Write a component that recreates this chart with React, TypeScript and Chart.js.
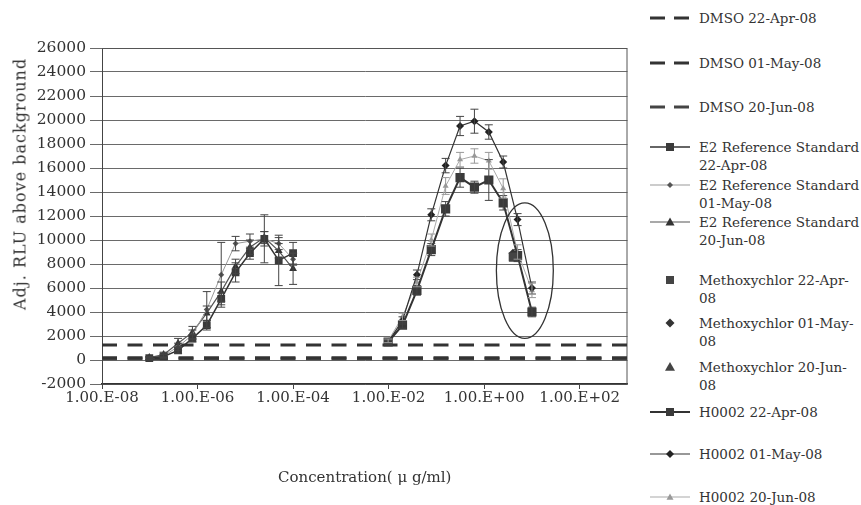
import React, { useEffect, useRef } from 'react';
import { Chart, registerables } from 'chart.js';

Chart.register(...registerables);

const FONT = '"DejaVu Serif", "Liberation Serif", serif';

// ---------- data ----------
const concE2 = [9.77e-8, 1.95e-7, 3.91e-7, 7.81e-7, 1.56e-6, 3.13e-6, 6.25e-6, 1.25e-5, 2.5e-5, 5e-5, 1e-4];
const concH0002 = [0.00977, 0.0195, 0.0391, 0.0781, 0.156, 0.3125, 0.625, 1.25, 2.5, 5, 10];
const concMethoxychlor = [4];
const concDMSO = [1e-8, 1e3];

const dmso22Apr = [1250, 1250];
const dmso01May = [180, 180];
const dmso20Jun = [100, 100];

const e2Apr = [150, 300, 800, 1800, 2900, 5100, 7300, 8900, 10100, 8300, 8900];
const e2May = [100, 350, 1100, 2100, 4200, 7100, 9700, 9900, 10100, 9700, 8400];
const e2Jun = [200, 450, 1400, 2300, 3900, 5700, 7800, 9400, 10200, 9100, 7600];
const e2AprErr = [100, 150, 250, 300, 400, 500, 800, 500, 2000, 2100, 900];
const e2MayErr = [100, 150, 300, 400, 1500, 2700, 600, 600, 600, 500, 500];
const e2JunErr = [100, 200, 400, 500, 600, 800, 600, 600, 500, 600, 1300];

const methApr = [8600];
const methMay = [8900];
const methJun = [8400];

const h2Apr = [1500, 2900, 5800, 9200, 12600, 15200, 14400, 15000, 13100, 8700, 4000];
const h2May = [1500, 3300, 7100, 12100, 16200, 19500, 19900, 19000, 16500, 11700, 6000];
const h2Jun = [1600, 3600, 6500, 10000, 14500, 16700, 17000, 16600, 14300, 9000, 5800];
const h2AprErr = [150, 250, 400, 500, 600, 800, 500, 1700, 600, 500, 400];
const h2MayErr = [150, 300, 400, 500, 600, 800, 1000, 600, 500, 500, 500];
const h2JunErr = [150, 300, 400, 500, 700, 600, 600, 700, 800, 600, 600];

const xTickValues = [1e-8, 1e-6, 1e-4, 1e-2, 1e0, 1e2];
const xTickLabels = ['1.00.E-08', '1.00.E-06', '1.00.E-04', '1.00.E-02', '1.00.E+00', '1.00.E+02'];

// circled region (data units)
const ellipseX = [1.8, 28];
const ellipseY = [1800, 13100];

// ---------- series ----------
type Series = {
  label: string;
  lines: string[];
  xs: number[];
  ys: number[];
  err?: number[];
  line: boolean;
  dash?: number[];
  color: string;
  width: number;
  marker?: 'rect' | 'rectRot' | 'triangle';
  markerColor?: string;
  r?: number;
};

const series: Series[] = [
  { label: 'DMSO 22-Apr-08', lines: ['DMSO 22-Apr-08'], xs: concDMSO, ys: dmso22Apr, line: true, dash: [15, 10.5], color: '#333', width: 3 },
  { label: 'DMSO 01-May-08', lines: ['DMSO 01-May-08'], xs: concDMSO, ys: dmso01May, line: true, dash: [15, 10.5], color: '#333', width: 3 },
  { label: 'DMSO 20-Jun-08', lines: ['DMSO 20-Jun-08'], xs: concDMSO, ys: dmso20Jun, line: true, dash: [15, 10.5], color: '#444', width: 3 },
  { label: 'E2 Reference Standard 22-Apr-08', lines: ['E2 Reference Standard', '22-Apr-08'], xs: concE2, ys: e2Apr, err: e2AprErr, line: true, color: '#333', width: 1.5, marker: 'rect', markerColor: '#3a3a3a', r: 5.5 },
  { label: 'E2 Reference Standard 01-May-08', lines: ['E2 Reference Standard', '01-May-08'], xs: concE2, ys: e2May, err: e2MayErr, line: true, color: '#999', width: 1, marker: 'rectRot', markerColor: '#555', r: 3 },
  { label: 'E2 Reference Standard 20-Jun-08', lines: ['E2 Reference Standard', '20-Jun-08'], xs: concE2, ys: e2Jun, err: e2JunErr, line: true, color: '#555', width: 1.2, marker: 'triangle', markerColor: '#333', r: 4.5 },
  { label: 'Methoxychlor 22-Apr-08', lines: ['Methoxychlor 22-Apr-', '08'], xs: concMethoxychlor, ys: methApr, line: false, color: '#444', width: 1, marker: 'rect', markerColor: '#444', r: 6 },
  { label: 'Methoxychlor 01-May-08', lines: ['Methoxychlor 01-May-', '08'], xs: concMethoxychlor, ys: methMay, line: false, color: '#333', width: 1, marker: 'rectRot', markerColor: '#333', r: 4.5 },
  { label: 'Methoxychlor 20-Jun-08', lines: ['Methoxychlor 20-Jun-', '08'], xs: concMethoxychlor, ys: methJun, line: false, color: '#444', width: 1, marker: 'triangle', markerColor: '#444', r: 5 },
  { label: 'H0002 22-Apr-08', lines: ['H0002 22-Apr-08'], xs: concH0002, ys: h2Apr, err: h2AprErr, line: true, color: '#333', width: 2, marker: 'rect', markerColor: '#3a3a3a', r: 6.5 },
  { label: 'H0002 01-May-08', lines: ['H0002 01-May-08'], xs: concH0002, ys: h2May, err: h2MayErr, line: true, color: '#333', width: 1.2, marker: 'rectRot', markerColor: '#222', r: 4 },
  { label: 'H0002 20-Jun-08', lines: ['H0002 20-Jun-08'], xs: concH0002, ys: h2Jun, err: h2JunErr, line: true, color: '#aaa', width: 1, marker: 'triangle', markerColor: '#999', r: 3.5 },
];

// ---------- layout (pixels) ----------
const CANVAS_W = 634;
const CANVAS_H = 505;
const legendCenters = [18, 63, 107, 147, 185, 222, 280, 323, 367, 412, 454, 497];

const errorBarPlugin = {
  id: 'errorBars',
  afterDatasetsDraw(chart: any) {
    const { ctx, scales } = chart;
    const x = scales.x;
    const y = scales.y;
    chart.data.datasets.forEach((ds: any) => {
      if (!ds.errors) return;
      ctx.save();
      ctx.strokeStyle = ds.errorColor;
      ctx.lineWidth = 1;
      ds.data.forEach((p: any, j: number) => {
        const e = ds.errors[j];
        if (!e) return;
        const px = x.getPixelForValue(p.x);
        const yt = y.getPixelForValue(p.y + e);
        const yb = y.getPixelForValue(p.y - e);
        ctx.beginPath();
        ctx.moveTo(px, yt);
        ctx.lineTo(px, yb);
        ctx.moveTo(px - 4, yt);
        ctx.lineTo(px + 4, yt);
        ctx.moveTo(px - 4, yb);
        ctx.lineTo(px + 4, yb);
        ctx.stroke();
      });
      ctx.restore();
    });
  },
};

const ellipsePlugin = {
  id: 'circleMark',
  afterDatasetsDraw(chart: any) {
    const { ctx, scales } = chart;
    const x0 = scales.x.getPixelForValue(ellipseX[0]);
    const x1 = scales.x.getPixelForValue(ellipseX[1]);
    const y0 = scales.y.getPixelForValue(ellipseY[0]);
    const y1 = scales.y.getPixelForValue(ellipseY[1]);
    ctx.save();
    ctx.strokeStyle = '#333';
    ctx.lineWidth = 1.3;
    ctx.beginPath();
    ctx.ellipse((x0 + x1) / 2, (y0 + y1) / 2, Math.abs(x1 - x0) / 2, Math.abs(y1 - y0) / 2, 0, 0, Math.PI * 2);
    ctx.stroke();
    ctx.restore();
  },
};

const framePlugin = {
  id: 'frame',
  beforeDatasetsDraw(chart: any) {
    const { ctx, chartArea } = chart;
    ctx.save();
    ctx.strokeStyle = '#555';
    ctx.lineWidth = 1;
    ctx.beginPath();
    ctx.moveTo(chartArea.left, chartArea.top + 0.5);
    ctx.lineTo(chartArea.right - 0.5, chartArea.top + 0.5);
    ctx.lineTo(chartArea.right - 0.5, chartArea.bottom);
    ctx.stroke();
    ctx.restore();
  },
};

function Swatch({ s }: { s: Series }) {
  const cx = 22;
  const cy = 8;
  const r = Math.min(s.r || 4, 5);
  let marker: React.ReactNode = null;
  if (s.marker === 'rect') {
    marker = <rect x={cx - r * 0.8} y={cy - r * 0.8} width={r * 1.6} height={r * 1.6} fill={s.markerColor} />;
  } else if (s.marker === 'rectRot') {
    marker = <polygon points={`${cx},${cy - r} ${cx + r},${cy} ${cx},${cy + r} ${cx - r},${cy}`} fill={s.markerColor} />;
  } else if (s.marker === 'triangle') {
    marker = <polygon points={`${cx},${cy - r} ${cx + r},${cy + r * 0.75} ${cx - r},${cy + r * 0.75}`} fill={s.markerColor} />;
  }
  return (
    <svg width={44} height={16} style={{ display: 'block' }}>
      {s.line && s.dash && (
        <line x1={2} y1={cy} x2={42} y2={cy} stroke={s.color} strokeWidth={2.8} strokeDasharray="15 9" />
      )}
      {s.line && !s.dash && <line x1={2} y1={cy} x2={42} y2={cy} stroke={s.color} strokeWidth={Math.max(s.width, 1.2)} />}
      {marker}
    </svg>
  );
}

export default function App() {
  const canvasRef = useRef<HTMLCanvasElement | null>(null);

  useEffect(() => {
    const canvas = canvasRef.current;
    if (!canvas) return;
    const datasets = series.map((s) => ({
      label: s.label,
      data: s.xs.map((x, i) => ({ x, y: s.ys[i] })),
      showLine: s.line,
      borderColor: s.color,
      borderWidth: s.width,
      borderDash: s.dash || [],
      backgroundColor: s.markerColor || s.color,
      pointStyle: s.marker || 'circle',
      pointRadius: s.marker ? s.r : 0,
      pointBorderWidth: 0,
      pointBackgroundColor: s.markerColor || s.color,
      pointBorderColor: s.markerColor || s.color,
      tension: 0,
      order: s.dash ? 2 : 1,
      errors: s.err,
      errorColor: s.color === '#aaa' ? '#999' : '#444',
    }));

    const chart = new Chart(canvas, {
      type: 'scatter',
      data: { datasets } as any,
      options: {
        responsive: false,
        animation: false,
        devicePixelRatio: 1,
        layout: { padding: { top: 48, right: 1, left: 0, bottom: 0 } },
        plugins: { legend: { display: false }, tooltip: { enabled: false }, title: { display: false } },
        scales: {
          x: {
            type: 'logarithmic',
            min: 1e-8,
            max: 1e3,
            position: 'bottom',
            afterBuildTicks: (scale: any) => {
              scale.ticks = xTickValues.map((v) => ({ value: v }));
            },
            afterFit: (scale: any) => {
              scale.height = 121;
            },
            grid: { display: true, drawOnChartArea: false, drawTicks: true, tickLength: 5, color: '#444' },
            border: { display: true, color: '#333', width: 1.5 },
            ticks: {
              autoSkip: false,
              maxRotation: 0,
              minRotation: 0,
              padding: 0,
              color: '#333',
              font: { family: FONT, size: 15 },
              callback: (v: any) => {
                const i = xTickValues.findIndex((t) => Math.abs(Math.log10(t) - Math.log10(Number(v))) < 1e-6);
                return i >= 0 ? xTickLabels[i] : '';
              },
            },
            title: {
              display: true,
              text: 'Concentration( μ g/ml)',
              color: '#333',
              font: { family: FONT, size: 15 },
              padding: { top: 0, bottom: 18 },
            },
          },
          y: {
            min: -2000,
            max: 26000,
            afterFit: (scale: any) => {
              scale.width = 102;
            },
            grid: { color: '#6a6a6a', lineWidth: 1, tickLength: 12, drawTicks: true },
            border: { display: true, color: '#444', width: 1 },
            ticks: {
              stepSize: 2000,
              padding: 4,
              color: '#333',
              font: { family: FONT, size: 15.5 },
              callback: (v: any) => String(v),
            },
          },
        },
      },
      plugins: [framePlugin, errorBarPlugin, ellipsePlugin],
    } as any);
    return () => chart.destroy();
  }, []);

  return (
    <div style={{ position: 'absolute', left: 0, top: 0, width: 861, height: 505, background: '#fff', overflow: 'hidden', fontFamily: FONT }}>
      <canvas ref={canvasRef} width={CANVAS_W} height={CANVAS_H} style={{ position: 'absolute', left: 0, top: 0 }} />
      <div
        style={{
          position: 'absolute',
          left: 20,
          top: 184,
          transform: 'translate(-50%, -50%) rotate(-90deg)',
          whiteSpace: 'nowrap',
          fontSize: 16,
          letterSpacing: '1px',
          color: '#333',
        }}
      >
        Adj. RLU above background
      </div>
      {series.map((s, i) => (
        <div key={s.label} style={{ position: 'absolute', left: 648, top: legendCenters[i] - 9 }}>
          <div style={{ position: 'absolute', left: 0, top: 1 }}>
            <Swatch s={s} />
          </div>
          <div style={{ position: 'absolute', left: 51, top: 0, fontSize: 13.5, lineHeight: '18px', color: '#333', whiteSpace: 'nowrap' }}>
            {s.lines.map((t) => (
              <div key={t}>{t}</div>
            ))}
          </div>
        </div>
      ))}
    </div>
  );
}
